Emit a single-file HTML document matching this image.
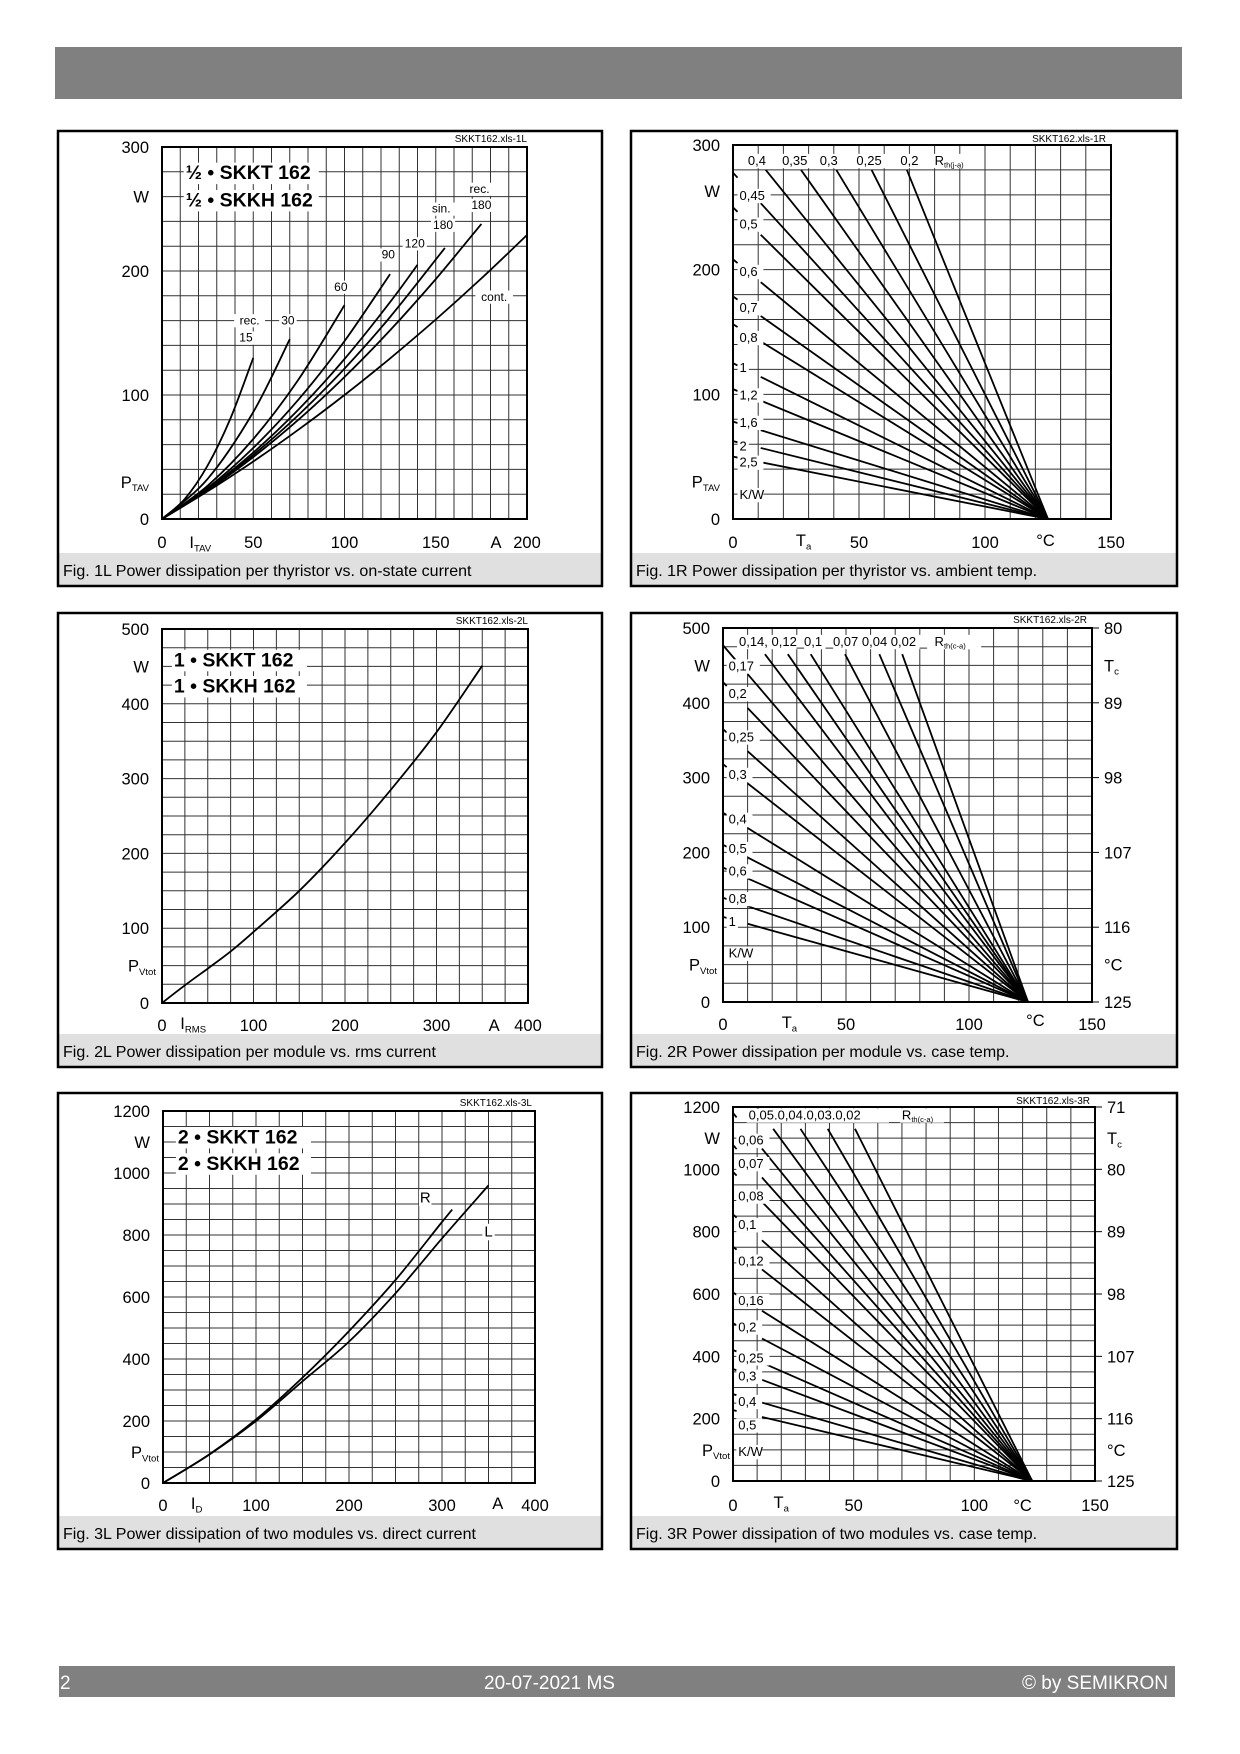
<!DOCTYPE html>
<html><head><meta charset="utf-8"><title>SKKT 162 power dissipation</title>
<style>
html,body{margin:0;padding:0;background:#fff;}
svg{display:block;font-family:"Liberation Sans",Arial,sans-serif;}
</style></head>
<body>
<svg id="page" width="1240" height="1754" viewBox="0 0 1240 1754" xmlns="http://www.w3.org/2000/svg">
<rect x="55" y="47" width="1127" height="52" fill="#808080"/>
<rect x="59" y="1666" width="1116" height="31" fill="#808080"/>
<text x="60" y="1689" font-size="19" fill="#fff">2</text>
<text x="484" y="1689" font-size="19" fill="#fff">20-07-2021 MS</text>
<text x="1168" y="1689" font-size="19" fill="#fff" text-anchor="end">© by SEMIKRON</text>
</svg>
<script>
// ---------- Fig 1L data (I_TAV [A] -> P_TAV [W]) ----------
const f1L_cont_I = [0,25,50,75,100,125,150,175,200];
const f1L_cont_P = [0,22.3,46.4,72.3,100,129.5,160.9,194,229];
const f1L_rec180_I = [0,25,50,75,100,125,150,175];
const f1L_rec180_P = [0,23.2,50,80.4,114.5,152.2,193.5,238];
const f1L_sin180_I = [0,25,50,75,100,125,155];
const f1L_sin180_P = [0,23.6,51.7,84.2,121.3,162.9,218.6];
const f1L_rec120_I = [0,25,50,75,100,125,140];
const f1L_rec120_P = [0,24.1,53.6,88.6,129,174.9,205];
const f1L_rec90_I = [0,25,50,75,100,125];
const f1L_rec90_P = [0,25,57.3,96.7,143.5,197.5];
const f1L_rec60_I = [0,25,50,75,100];
const f1L_rec60_P = [0,26.8,64.5,113,172.5];
const f1L_rec30_I = [0,25,50,70];
const f1L_rec30_P = [0,32.3,86.3,145];
const f1L_rec15_I = [0,12.5,25,37.5,50];
const f1L_rec15_P = [0,16.1,43.1,81,130];
const f1L_xTicks = [0,50,100,150,200];
const f1L_yTicks = [0,100,200,300];
// ---------- Fig 1R data ----------
const f1R_rth = [0.2,0.25,0.3,0.35,0.4,0.45,0.5,0.6,0.7,0.8,1,1.2,1.6,2,2.5];
const f1R_tj = 125;
const f1R_xTicks = [0,50,100,150];
const f1R_yTicks = [0,100,200,300];
// ---------- Fig 2L data ----------
const f2L_I = [0,25,50,75,100,150,200,250,300,350];
const f2L_P = [0,23.7,46,69,95,150,214,285,362,451];
const f2L_xTicks = [100,200,300,400];
const f2L_yTicks = [0,100,200,300,400,500];
// ---------- Fig 2R data ----------
const f2R_rth = [0.02,0.04,0.07,0.1,0.12,0.14,0.17,0.2,0.25,0.3,0.4,0.5,0.6,0.8,1];
const f2R_rjc = 0.09;
const f2R_tj = 124;
const f2R_xTicks = [0,50,100,150];
const f2R_yTicks = [0,100,200,300,400,500];
const f2R_tcLabels = ['125','116','107','98','89','80'];
// ---------- Fig 3L data ----------
const f3L_L_I = [0,50,100,150,200,250,300,350];
const f3L_L_P = [0,92,200,328,456,612,789,960];
const f3L_R_I = [0,50,100,150,200,250,300,311];
const f3L_R_P = [0,93,205,340,490,655,842,882];
const f3L_xTicks = [100,200,300,400];
const f3L_yTicks = [0,200,400,600,800,1000,1200];
// ---------- Fig 3R data ----------
const f3R_rth = [0.02,0.03,0.04,0.05,0.06,0.07,0.08,0.1,0.12,0.16,0.2,0.25,0.3,0.4,0.5];
const f3R_rjc = 0.045;
const f3R_tj = 124;
const f3R_xTicks = [0,50,100,150];
const f3R_yTicks = [0,200,400,600,800,1000,1200];
const f3R_tcLabels = ['125','116','107','98','89','80','71'];

const NS = 'http://www.w3.org/2000/svg';
const svg = document.getElementById('page');
function mk(tag, attrs, parent){
  const e = document.createElementNS(NS, tag);
  for (const k in attrs) e.setAttribute(k, attrs[k]);
  (parent || svg).appendChild(e);
  return e;
}
function lin(d0,d1,r0,r1){ return v => r0 + (v-d0)/(d1-d0)*(r1-r0); }

function txt(g, x, y, str, o){
  o = o || {};
  const size = o.size || 16.5;
  const sub = o.sub || '';
  const anchor = o.anchor || 'start';
  if (o.bg){
    const w = str.length*size*0.56 + sub.length*size*0.36 + 4;
    let left = anchor==='end' ? x-w+2 : anchor==='middle' ? x-w/2 : x-2;
    const r = mk('rect', {x:left, y:y-size*0.85, width:w, height:size*1.1, fill:'#fff'}, g);
    
    
  }
  const t = mk('text', {x:x, y:y, 'font-size':size, 'text-anchor':anchor, fill:'#000'}, g);
  if (o.bold) t.setAttribute('font-weight', 'bold');
  
  
  t.appendChild(document.createTextNode(str));
  if (sub){
    const s = mk('tspan', {'font-size':size*0.58, dy:size*0.2}, t);
    s.appendChild(document.createTextNode(sub));
  }
  return t;
}

function panel(x0,y0,x1,y1,caption,name){
  const g = mk('g', {});
  
  
  const f = mk('rect', {x:x0, y:y0, width:x1-x0, height:y1-y0, fill:'#fff'}, g);
  
  
  const c = mk('rect', {x:x0, y:y1-33, width:x1-x0, height:33, fill:'#e0e0e0'}, g);
  
  
  txt(g, x0+5, y1-10, caption, {size:16, name:'figure-caption'});
  return g;
}
function frame(g,x0,y0,x1,y1){
  const b = mk('rect', {x:x0, y:y0, width:x1-x0, height:y1-y0, fill:'none', stroke:'#000', 'stroke-width':2.5}, g);
  
  
}
function grid(g,x0,y0,x1,y1,nc,nr){
  const gg = mk('g', {stroke:'#333', 'stroke-width':1}, g);
  
  
  for (let i=1;i<nc;i++){ const x=x0+(x1-x0)*i/nc; mk('line',{x1:x,y1:y0,x2:x,y2:y1},gg); }
  for (let j=1;j<nr;j++){ const y=y0+(y1-y0)*j/nr; mk('line',{x1:x0,y1:y,x2:x1,y2:y},gg); }
}
function border(g,x0,y0,x1,y1){
  const b = mk('rect', {x:x0, y:y0, width:x1-x0, height:y1-y0, fill:'none', stroke:'#000', 'stroke-width':2}, g);
  
  
}
function series(g, xs, ys, sx, sy, name){
  const P = xs.map((v,i)=> [sx(v), sy(ys[i])]);
  let d = 'M'+P[0][0].toFixed(1)+','+P[0][1].toFixed(1);
  for (let i=0;i<P.length-1;i++){
    const p0 = P[Math.max(0,i-1)], p1 = P[i], p2 = P[i+1], p3 = P[Math.min(P.length-1,i+2)];
    const c1x = p1[0]+(p2[0]-p0[0])/6, c1y = p1[1]+(p2[1]-p0[1])/6;
    const c2x = p2[0]-(p3[0]-p1[0])/6, c2y = p2[1]-(p3[1]-p1[1])/6;
    d += ' C'+c1x.toFixed(1)+','+c1y.toFixed(1)+' '+c2x.toFixed(1)+','+c2y.toFixed(1)+' '+p2[0].toFixed(1)+','+p2[1].toFixed(1);
  }
  const p = mk('path', {d:d, fill:'none', stroke:'#000', 'stroke-width':1.8, 'stroke-linejoin':'round'}, g);
  
  
  return p;
}
function seg(g, ta0, ta1, fn, sx, sy, name){
  const p = mk('line', {x1:sx(ta0), y1:sy(fn(ta0)), x2:sx(ta1), y2:sy(fn(ta1)), stroke:'#000', 'stroke-width':1.8}, g);
  
  
}
function yTickLabels(g, ticks, sx0, sy){ ticks.forEach(v => txt(g, sx0-13, sy(v)+6, String(v), {anchor:'end', name:'y-tick-label'})); }
function xTickLabels(g, ticks, sx, yb){ ticks.forEach(v => txt(g, sx(v), yb, String(v), {anchor:'middle', name:'x-tick-label'})); }
function fileLabel(g, x, y, s){ txt(g, x, y, s, {size:10, anchor:'end', name:'source-file-label'}); }

// ================= Fig 1L =================
(function(){
  const X0=162,X1=527,Y0=147,Y1=519;
  const g = panel(58,131,602,586,'Fig. 1L Power dissipation per thyristor vs. on-state current','fig-1L-panel');
  const sx = lin(0,200,X0,X1), sy = lin(0,300,Y1,Y0);
  grid(g,X0,Y0,X1,Y1,20,15);
  series(g,f1L_cont_I,f1L_cont_P,sx,sy,'curve-cont');
  series(g,f1L_rec180_I,f1L_rec180_P,sx,sy,'curve-rec-180');
  series(g,f1L_sin180_I,f1L_sin180_P,sx,sy,'curve-sin-180');
  series(g,f1L_rec120_I,f1L_rec120_P,sx,sy,'curve-rec-120');
  series(g,f1L_rec90_I,f1L_rec90_P,sx,sy,'curve-rec-90');
  series(g,f1L_rec60_I,f1L_rec60_P,sx,sy,'curve-rec-60');
  series(g,f1L_rec30_I,f1L_rec30_P,sx,sy,'curve-rec-30');
  series(g,f1L_rec15_I,f1L_rec15_P,sx,sy,'curve-rec-15');
  border(g,X0,Y0,X1,Y1);
  txt(g, sx(13), sy(274), '½ • SKKT 162', {size:19.5, bold:true, bg:true, name:'chart-title'});
  txt(g, sx(13), sy(252), '½ • SKKH 162', {size:19.5, bold:true, bg:true, name:'chart-subtitle'});
  txt(g, sx(174), sy(263), 'rec.', {size:12, anchor:'middle', bg:true, name:'curve-label'});
  txt(g, sx(175), sy(250), '180', {size:12, anchor:'middle', bg:true, name:'curve-label'});
  txt(g, sx(153), sy(247), 'sin.', {size:12, anchor:'middle', bg:true, name:'curve-label'});
  txt(g, sx(154), sy(234), '180', {size:12, anchor:'middle', bg:true, name:'curve-label'});
  txt(g, sx(138.5), sy(219), '120', {size:12, anchor:'middle', bg:true, name:'curve-label'});
  txt(g, sx(124), sy(210), '90', {size:12, anchor:'middle', bg:true, name:'curve-label'});
  txt(g, sx(98), sy(184), '60', {size:12, anchor:'middle', bg:true, name:'curve-label'});
  txt(g, sx(69), sy(157), '30', {size:12, anchor:'middle', bg:true, name:'curve-label'});
  txt(g, sx(48), sy(157), 'rec.', {size:12, anchor:'middle', bg:true, name:'curve-label'});
  txt(g, sx(46), sy(143), '15', {size:12, anchor:'middle', bg:true, name:'curve-label'});
  txt(g, sx(182), sy(176), 'cont.', {size:12, anchor:'middle', bg:true, name:'curve-label'});
  yTickLabels(g,f1L_yTicks,X0,sy);
  txt(g, X0-13, sy(260)+6, 'W', {anchor:'end', name:'y-axis-unit'});
  txt(g, X0-13, sy(30)+6, 'P', {anchor:'end', sub:'TAV', name:'y-axis-title'});
  xTickLabels(g,f1L_xTicks,sx,Y1+29);
  txt(g, sx(15), Y1+29, 'I', {sub:'TAV', name:'x-axis-title'});
  txt(g, sx(183), Y1+29, 'A', {anchor:'middle', name:'x-axis-unit'});
  fileLabel(g, X1, Y0-5, 'SKKT162.xls-1L');
  frame(g,58,131,602,586);
})();

// ================= Fig 1R =================
(function(){
  const X0=733,X1=1111,Y0=145,Y1=519;
  const g = panel(631,131,1177,586,'Fig. 1R Power dissipation per thyristor vs. ambient temp.','fig-1R-panel');
  const sx = lin(0,150,X0,X1), sy = lin(0,300,Y1,Y0);
  grid(g,X0,Y0,X1,Y1,15,15);
  const top = 280;
  f1R_rth.forEach(r => {
    const fn = ta => Math.max(0,(f1R_tj-ta)/r);
    const p0 = f1R_tj/r;
    if (p0 > top){
      seg(g, f1R_tj - top*r, f1R_tj, fn, sx, sy, 'rth-line-'+r);
    } else {
      seg(g, 0, 1.8, fn, sx, sy, 'rth-line-stub-'+r);
      seg(g, 11, f1R_tj, fn, sx, sy, 'rth-line-'+r);
    }
  });
  border(g,X0,Y0,X1,Y1);
  const topLbl = [['0,4',9.5],['0,35',24.5],['0,3',38],['0,25',54],['0,2',70]];
  topLbl.forEach(a => txt(g, sx(a[1]), sy(284), a[0], {size:13, anchor:'middle', bg:true, name:'rth-label'}));
  txt(g, sx(80), sy(284), 'R', {size:13, sub:'th(j-a)', bg:true, name:'rth-axis-title'});
  const leftLbl = [['0,45',260],['0,5',237],['0,6',199],['0,7',170],['0,8',146],['1',122],['1,2',100],['1,6',78],['2',59],['2,5',46],['K/W',20]];
  leftLbl.forEach(a => txt(g, sx(2.6), sy(a[1])+5, a[0], {size:13, bg:true, name:'rth-label'}));
  yTickLabels(g,f1R_yTicks,X0,sy);
  txt(g, X0-13, sy(263)+6, 'W', {anchor:'end', name:'y-axis-unit'});
  txt(g, X0-13, sy(30)+6, 'P', {anchor:'end', sub:'TAV', name:'y-axis-title'});
  xTickLabels(g,f1R_xTicks,sx,Y1+29);
  txt(g, sx(28), Y1+27, 'T', {anchor:'middle', sub:'a', name:'x-axis-title'});
  txt(g, sx(124), Y1+27, '°C', {anchor:'middle', name:'x-axis-unit'});
  fileLabel(g, X1-5, Y0-3, 'SKKT162.xls-1R');
  frame(g,631,131,1177,586);
})();

// ================= Fig 2L =================
(function(){
  const X0=162,X1=528,Y0=629,Y1=1003;
  const g = panel(58,613,602,1067,'Fig. 2L Power dissipation per module vs. rms current','fig-2L-panel');
  const sx = lin(0,400,X0,X1), sy = lin(0,500,Y1,Y0);
  grid(g,X0,Y0,X1,Y1,16,20);
  series(g,f2L_I,f2L_P,sx,sy,'curve-module-power');
  border(g,X0,Y0,X1,Y1);
  txt(g, sx(13), sy(450), '1 • SKKT 162', {size:19.5, bold:true, bg:true, name:'chart-title'});
  txt(g, sx(13), sy(415), '1 • SKKH 162', {size:19.5, bold:true, bg:true, name:'chart-subtitle'});
  yTickLabels(g,f2L_yTicks,X0,sy);
  txt(g, X0-13, sy(450)+6, 'W', {anchor:'end', name:'y-axis-unit'});
  txt(g, X0-6, sy(50)+6, 'P', {anchor:'end', sub:'Vtot', name:'y-axis-title'});
  txt(g, sx(0), Y1+28, '0', {anchor:'middle', name:'x-tick-label'});
  xTickLabels(g,f2L_xTicks,sx,Y1+28);
  txt(g, sx(20), Y1+26, 'I', {sub:'RMS', name:'x-axis-title'});
  txt(g, sx(363), Y1+28, 'A', {anchor:'middle', name:'x-axis-unit'});
  fileLabel(g, X1, Y0-5, 'SKKT162.xls-2L');
  frame(g,58,613,602,1067);
})();

// ================= Fig 2R =================
(function(){
  const X0=723,X1=1092,Y0=628,Y1=1002;
  const g = panel(631,613,1177,1067,'Fig. 2R Power dissipation per module vs. case temp.','fig-2R-panel');
  const sx = lin(0,150,X0,X1), sy = lin(0,500,Y1,Y0);
  grid(g,X0,Y0,X1,Y1,15,20);
  const top = 465;
  f2R_rth.forEach(r => {
    const rr = r + f2R_rjc;
    const fn = ta => Math.max(0,(f2R_tj-ta)/rr);
    if (f2R_tj/rr > top){
      const p10 = (f2R_tj-10)/rr;
      if (p10 < top && r >= 0.17){
        seg(g, 0, 5, fn, sx, sy, 'rth-line-stub-'+r);
        seg(g, 10, f2R_tj, fn, sx, sy, 'rth-line-'+r);
      } else {
        seg(g, f2R_tj - top*rr, f2R_tj, fn, sx, sy, 'rth-line-'+r);
      }
    } else {
      seg(g, 0, 1.5, fn, sx, sy, 'rth-line-stub-'+r);
      seg(g, 10, f2R_tj, fn, sx, sy, 'rth-line-'+r);
    }
  });
  border(g,X0,Y0,X1,Y1);
  txt(g, sx(6.5), sy(476), '0,14, 0,12_0,1 _0,07 0,04  0,02 _', {size:13, bg:true, name:'rth-label'});
  txt(g, sx(86), sy(476), 'R', {size:13, sub:'th(c-a)', bg:true, name:'rth-axis-title'});
  const leftLbl = [['0,17',450],['0,2',413],['0,25',355],['0,3',305],['0,4',245],['0,5',206],['0,6',176],['0,8',139],['1',108],['K/W',66]];
  leftLbl.forEach(a => txt(g, sx(2.3), sy(a[1])+5, a[0], {size:13, bg:true, name:'rth-label'}));
  yTickLabels(g,f2R_yTicks,X0,sy);
  txt(g, X0-13, sy(450)+6, 'W', {anchor:'end', name:'y-axis-unit'});
  txt(g, X0-6, sy(50)+6, 'P', {anchor:'end', sub:'Vtot', name:'y-axis-title'});
  f2R_tcLabels.forEach((s,i) => {
    const y = sy(i*100);
    const t = mk('line', {x1:X1, y1:y, x2:X1+7, y2:y, stroke:'#000', 'stroke-width':1}, g);
    
    
    txt(g, X1+12, y+6, s, {name:'tc-tick-label'});
  });
  txt(g, X1+12, sy(450)+6, 'T', {sub:'c', name:'tc-axis-title'});
  txt(g, X1+12, sy(50)+6, '°C', {name:'tc-axis-unit'});
  xTickLabels(g,f2R_xTicks,sx,Y1+28);
  txt(g, sx(27), Y1+26, 'T', {anchor:'middle', sub:'a', name:'x-axis-title'});
  txt(g, sx(127), Y1+24, '°C', {anchor:'middle', name:'x-axis-unit'});
  fileLabel(g, X1-5, Y0-5, 'SKKT162.xls-2R');
  frame(g,631,613,1177,1067);
})();

// ================= Fig 3L =================
(function(){
  const X0=163,X1=535,Y0=1111,Y1=1483;
  const g = panel(58,1093,602,1549,'Fig. 3L Power dissipation of two modules vs. direct current','fig-3L-panel');
  const sx = lin(0,400,X0,X1), sy = lin(0,1200,Y1,Y0);
  grid(g,X0,Y0,X1,Y1,16,24);
  series(g,f3L_L_I,f3L_L_P,sx,sy,'curve-L');
  series(g,f3L_R_I,f3L_R_P,sx,sy,'curve-R');
  border(g,X0,Y0,X1,Y1);
  txt(g, sx(16), sy(1095), '2 • SKKT 162', {size:19.5, bold:true, bg:true, name:'chart-title'});
  txt(g, sx(16), sy(1010), '2 • SKKH 162', {size:19.5, bold:true, bg:true, name:'chart-subtitle'});
  txt(g, sx(282), sy(905), 'R', {size:15, anchor:'middle', bg:true, name:'curve-label-R'});
  txt(g, sx(350), sy(795), 'L', {size:15, anchor:'middle', bg:true, name:'curve-label-L'});
  yTickLabels(g,f3L_yTicks,X0,sy);
  txt(g, X0-13, sy(1100)+6, 'W', {anchor:'end', name:'y-axis-unit'});
  txt(g, X0-4, sy(100)+6, 'P', {anchor:'end', sub:'Vtot', name:'y-axis-title'});
  txt(g, sx(0), Y1+28, '0', {anchor:'middle', name:'x-tick-label'});
  xTickLabels(g,f3L_xTicks,sx,Y1+28);
  txt(g, sx(30), Y1+26, 'I', {sub:'D', name:'x-axis-title'});
  txt(g, sx(360), Y1+26, 'A', {anchor:'middle', name:'x-axis-unit'});
  fileLabel(g, X1-3, Y0-5, 'SKKT162.xls-3L');
  frame(g,58,1093,602,1549);
})();

// ================= Fig 3R =================
(function(){
  const X0=733,X1=1095,Y0=1107,Y1=1481;
  const g = panel(631,1093,1177,1549,'Fig. 3R Power dissipation of two modules vs. case temp.','fig-3R-panel');
  const sx = lin(0,150,X0,X1), sy = lin(0,1200,Y1,Y0);
  grid(g,X0,Y0,X1,Y1,15,24);
  const top = 1130;
  f3R_rth.forEach(r => {
    const rr = r + f3R_rjc;
    const fn = ta => Math.max(0,(f3R_tj-ta)/rr);
    if (r <= 0.05){
      seg(g, f3R_tj - top*rr, f3R_tj, fn, sx, sy, 'rth-line-'+r);
      if (r === 0.05) seg(g, f3R_tj - 1200*rr, f3R_tj - 1160*rr, fn, sx, sy, 'rth-line-stub-'+r);
    } else {
      if (f3R_tj/rr <= 1200) seg(g, 0, 1.5, fn, sx, sy, 'rth-line-stub-'+r);
      seg(g, 12, f3R_tj, fn, sx, sy, 'rth-line-'+r);
    }
  });
  border(g,X0,Y0,X1,Y1);
  txt(g, sx(6.5), sy(1160), '0,05.0,04.0,03.0,02', {size:13, bg:true, name:'rth-label'});
  txt(g, sx(70), sy(1160), 'R', {size:13, sub:'th(c-a)', bg:true, name:'rth-axis-title'});
  const leftLbl = [['0,06',1095],['0,07',1020],['0,08',916],['0,1',824],['0,12',707],['0,16',581],['0,2',496],['0,25',397],['0,3',338],['0,4',257],['0,5',182],['K/W',96]];
  leftLbl.forEach(a => txt(g, sx(2.2), sy(a[1])+5, a[0], {size:13, bg:true, name:'rth-label'}));
  yTickLabels(g,f3R_yTicks,X0,sy);
  txt(g, X0-13, sy(1100)+6, 'W', {anchor:'end', name:'y-axis-unit'});
  txt(g, X0-3, sy(100)+6, 'P', {anchor:'end', sub:'Vtot', name:'y-axis-title'});
  f3R_tcLabels.forEach((s,i) => {
    const y = sy(i*200);
    const t = mk('line', {x1:X1, y1:y, x2:X1+7, y2:y, stroke:'#000', 'stroke-width':1}, g);
    
    
    txt(g, X1+12, y+6, s, {name:'tc-tick-label'});
  });
  txt(g, X1+12, sy(1100)+6, 'T', {sub:'c', name:'tc-axis-title'});
  txt(g, X1+12, sy(100)+6, '°C', {name:'tc-axis-unit'});
  xTickLabels(g,f3R_xTicks,sx,Y1+30);
  txt(g, sx(20), Y1+27, 'T', {anchor:'middle', sub:'a', name:'x-axis-title'});
  txt(g, sx(120), Y1+30, '°C', {anchor:'middle', name:'x-axis-unit'});
  fileLabel(g, X1-5, Y0-3, 'SKKT162.xls-3R');
  frame(g,631,1093,1177,1549);
})();
</script>
</body></html>
